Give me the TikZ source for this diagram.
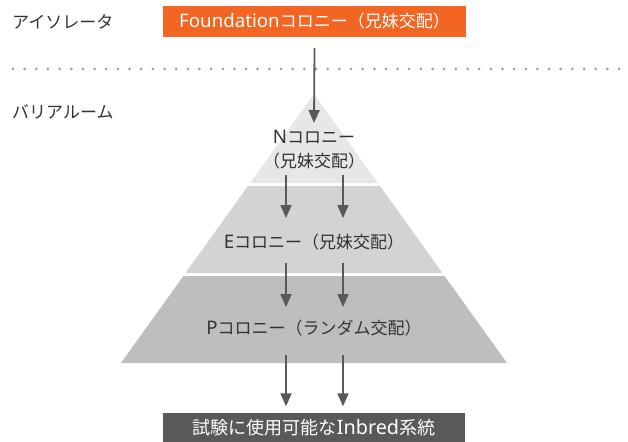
\documentclass[tikz,border=0pt]{standalone}
\usepackage{fontspec}
\setmainfont{Noto Sans CJK JP}
\newfontfamily\latinfont{Noto Sans}[Scale=1.1]
\newcommand{\latn}[1]{{\latinfont #1}}
\usetikzlibrary{arrows.meta}
\definecolor{foundorange}{HTML}{F26522}
\definecolor{arrowgray}{HTML}{58595B}
\definecolor{dotgray}{HTML}{9D9FA2}
\definecolor{tierA}{HTML}{E6E7E8}
\definecolor{tierB}{HTML}{D1D3D4}
\definecolor{tierC}{HTML}{BCBEC0}
\definecolor{txtgray}{HTML}{333333}

\begin{document}
\begin{tikzpicture}[x=1pt,y=-1pt,
  every node/.style={font=\fontsize{17}{24}\selectfont, text=txtgray, inner sep=0pt},
  arr/.style={draw=arrowgray, line width=1.8pt, -{Triangle[length=13pt,width=11pt]}},
  box/.style={minimum width=303pt, minimum height=31pt, text=white}]
  \useasboundingbox (0,0) rectangle (628,441);

  % pyramid tiers
  \foreach \ya/\yb/\col in {94/183/tierA,186/273/tierB,276/363/tierC}
    \fill[\col] ({314-0.7175*(\ya-94)},\ya) -- ({314+0.7175*(\ya-94)},\ya)
      -- ({314+0.7175*(\yb-94)},\yb) -- ({314-0.7175*(\yb-94)},\yb) -- cycle;

  % dotted separator
  \foreach \i in {0,...,52}
    \fill[dotgray] ({13+11.654*\i},69) circle (1.5pt);

  % rooms
  \node[anchor=west] (iso) at (12,22) {アイソレータ};
  \node[anchor=west] (barrier) at (12,112) {バリアルーム};

  % colonies
  \node[box, fill=foundorange] (found) at (314.5,21.5) {\latn{Foundation}コロニー（兄妹交配）};
  \node[align=center] (ncol) at (314,150) {\latn{N}コロニー\\（兄妹交配）};
  \node (ecol) at (314,242) {\latn{E}コロニー（兄妹交配）};
  \node (pcol) at (314,328) {\latn{P}コロニー（ランダム交配）};
  \node[box, fill=arrowgray, minimum width=302pt, font=\fontsize{18}{24}\selectfont]
    (inbred) at (314,428) {試験に使用可能な\latn{Inbred}系統};

  % arrows
  \coordinate (ntop) at (314,123);
  \draw[arr] ([yshift=-11pt]found.south) -- (ntop);
  \foreach \x in {286,343} {
    \coordinate (nout\x) at (\x,175);
    \coordinate (ein\x) at (\x,218);
    \coordinate (eout\x) at (\x,263);
    \coordinate (pin\x) at (\x,307);
    \coordinate (pout\x) at (\x,355);
  }
  \foreach \x in {286,343} {
    \draw[arr] (nout\x) -- (ein\x);
    \draw[arr] (eout\x) -- (pin\x);
    \draw[arr] (pout\x) -- ([yshift=6pt]inbred.north -| pout\x);
  }
\end{tikzpicture}
\end{document}
